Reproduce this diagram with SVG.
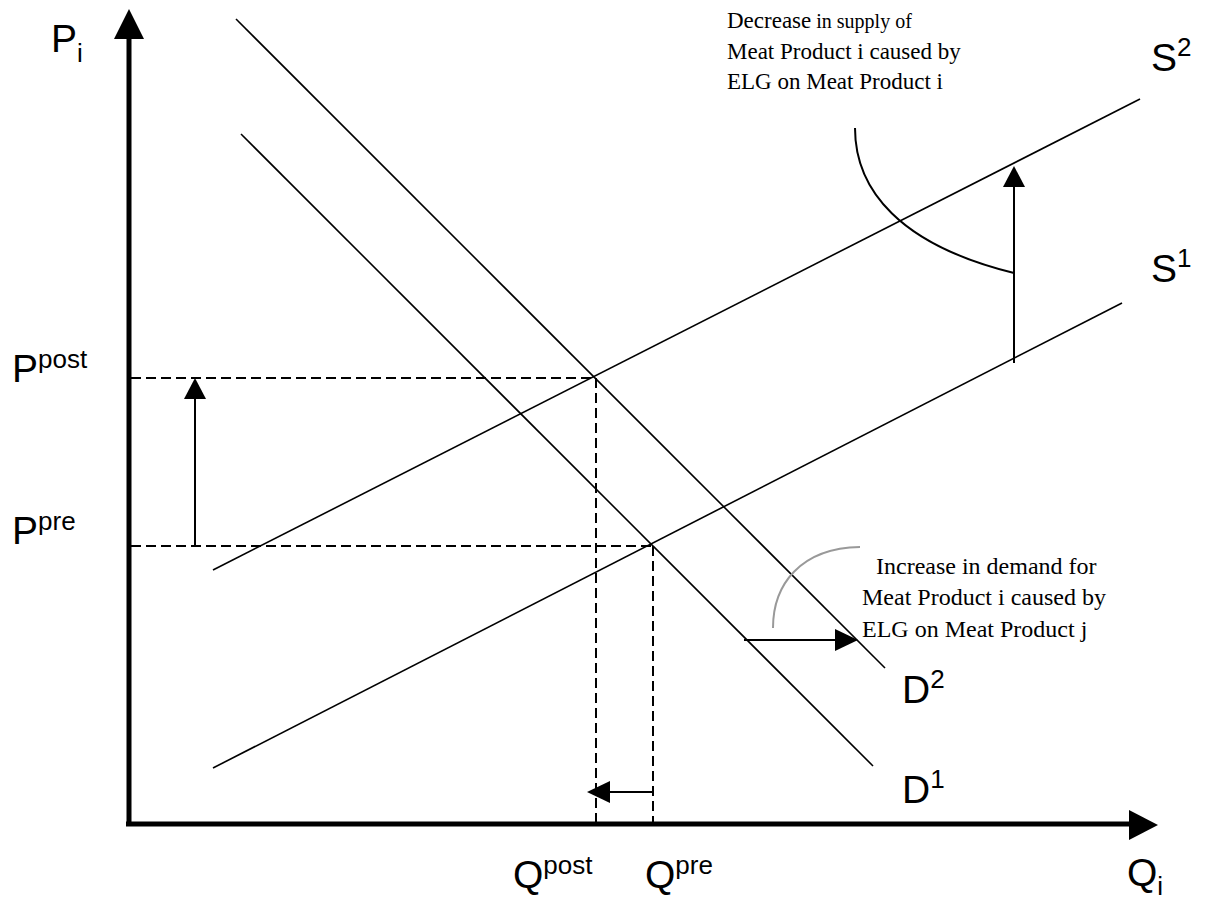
<svg xmlns="http://www.w3.org/2000/svg" width="1228" height="901" viewBox="0 0 1228 901">
<style>
.lbl{font-family:"Liberation Sans",Arial,sans-serif;font-size:39px;fill:#000}
.sup{font-size:26px}
.ann{font-family:"Liberation Serif","Times New Roman",serif;font-size:23px;fill:#000}
.ann2{font-family:"Liberation Serif","Times New Roman",serif;font-size:24px;fill:#000}
.sm{font-size:20px}
.ln{stroke:#000;stroke-width:1.6;fill:none}
.dash{stroke:#000;stroke-width:2;stroke-dasharray:10 5;fill:none}
.arr{stroke:#000;stroke-width:2;fill:none}
.ax{stroke:#000;stroke-width:5;fill:none}
</style>
<rect width="1228" height="901" fill="#fff"/>
<g id="axes">
<line class="ax" x1="129" y1="826" x2="129" y2="36"/>
<polygon points="129,9 114,39 144,39"/>
<line class="ax" x1="126" y1="824" x2="1132" y2="824"/>
<polygon points="1158,825 1129,810 1129,840"/>
</g>
<g id="curves">
<line id="D2" class="ln" x1="236" y1="19" x2="885" y2="668"/>
<line id="D1" class="ln" x1="241" y1="134" x2="873" y2="766"/>
<line id="S2" class="ln" x1="213" y1="570" x2="1140" y2="99"/>
<line id="S1" class="ln" x1="213" y1="768" x2="1122" y2="303"/>
</g>
<g id="guides">
<line class="dash" x1="131" y1="378" x2="596" y2="378"/>
<line class="dash" x1="596" y1="378" x2="596" y2="824"/>
<line class="dash" x1="131" y1="546" x2="653" y2="546"/>
<line class="dash" x1="653" y1="546" x2="653" y2="830"/>
</g>
<g id="connectors">
<line class="arr" x1="195" y1="546" x2="195" y2="396"/>
<polygon points="195,378 184,399 206,399"/>
<line class="arr" x1="1014" y1="363" x2="1014" y2="185"/>
<polygon points="1014,166 1003,187 1025,187"/>
<line class="arr" x1="744" y1="640" x2="836" y2="640"/>
<polygon points="858,640 835,629 835,651"/>
<line class="arr" x1="652" y1="792" x2="608" y2="792"/>
<polygon points="587,792 610,781 610,803"/>
<path class="arr" d="M855,128 C855,190 900,245 1014,273"/>
<path d="M773,628 C773,585 800,548 860,547" stroke="#999" stroke-width="2" fill="none"/>
</g>
<g id="labels">
<text class="lbl" x="51" y="52">P<tspan class="sup" dy="10">i</tspan></text>
<text class="lbl" x="12" y="382">P<tspan class="sup" dy="-14">post</tspan></text>
<text class="lbl" x="12" y="544">P<tspan class="sup" dy="-14">pre</tspan></text>
<text class="lbl" x="513" y="888">Q<tspan class="sup" dy="-14">post</tspan></text>
<text class="lbl" x="645" y="888">Q<tspan class="sup" dy="-14">pre</tspan></text>
<text class="lbl" x="1127" y="886">Q<tspan class="sup" dy="9">i</tspan></text>
<text class="lbl" x="902" y="703">D<tspan class="sup" dy="-15">2</tspan></text>
<text class="lbl" x="902" y="803">D<tspan class="sup" dy="-15">1</tspan></text>
<text class="lbl" x="1151" y="71">S<tspan class="sup" dy="-15">2</tspan></text>
<text class="lbl" x="1151" y="282">S<tspan class="sup" dy="-15">1</tspan></text>
</g>
<g id="note-supply">
<text class="ann" x="727" y="28">Decrease<tspan class="sm"> in supply of</tspan></text>
<text class="ann" x="727" y="59">Meat Product i caused by</text>
<text class="ann" x="727" y="89">ELG on Meat Product i</text>
</g>
<g id="note-demand">
<text class="ann2" x="876" y="574">Increase in demand for</text>
<text class="ann2" x="862" y="605">Meat Product i caused by</text>
<text class="ann2" x="862" y="637">ELG on Meat Product j</text>
</g>
</svg>
